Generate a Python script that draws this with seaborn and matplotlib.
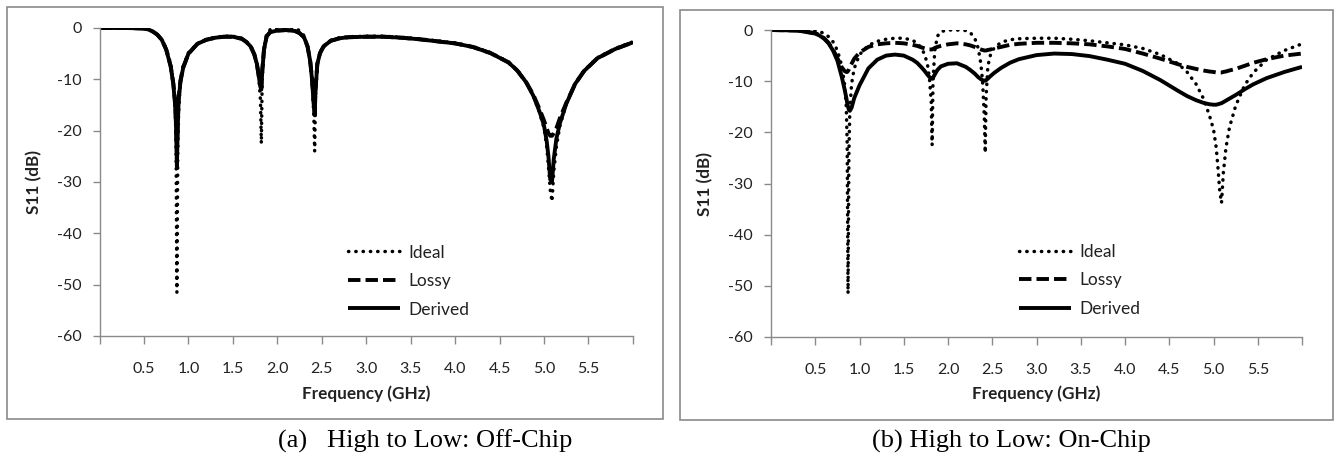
import matplotlib
matplotlib.use("Agg")
import matplotlib.pyplot as plt
import numpy as np
import pandas as pd
import seaborn as sns
from matplotlib.patches import Rectangle

# ---------------- data ----------------
freq_ghz = [0.00, 0.30, 0.50, 0.55, 0.60, 0.65, 0.70, 0.75, 0.80, 0.83,
            0.85, 0.86, 0.87, 0.88, 0.89, 0.91, 0.94, 1.00, 1.10, 1.20,
            1.30, 1.40, 1.50, 1.60, 1.65, 1.70, 1.74, 1.77, 1.79, 1.81,
            1.82, 1.83, 1.85, 1.88, 1.92, 2.00, 2.10, 2.20, 2.25, 2.30,
            2.34, 2.37, 2.39, 2.41, 2.42, 2.43, 2.45, 2.48, 2.52, 2.60,
            2.70, 2.80, 3.00, 3.20, 3.40, 3.60, 3.80, 4.00, 4.20, 4.40,
            4.60, 4.70, 4.80, 4.88, 4.95, 5.00, 5.03, 5.05, 5.07, 5.09,
            5.11, 5.14, 5.18, 5.25, 5.35, 5.45, 5.60, 5.80, 6.00]

# Ideal (same in both panels)
s11_ideal = [0, 0, -0.1, -0.3, -0.7, -1.3, -2.3, -4.0, -7.0, -10.5,
             -15, -22, -51.5, -24, -16, -10.5, -7.5, -4.8, -3.0, -2.2,
             -1.8, -1.6, -1.6, -2.0, -2.6, -3.5, -5.0, -7.0, -9.5, -14,
             -22.5, -10, -4.0, -1.2, -0.3, 0, 0, -0.1, -0.5, -1.5,
             -3.5, -6.5, -10, -17, -24, -13, -7.0, -4.8, -3.5, -2.4,
             -1.9, -1.7, -1.6, -1.6, -1.8, -2.1, -2.5, -2.9, -3.6, -4.8,
             -6.6, -8.2, -10.5, -13.2, -16.5, -19.5, -23, -27, -31.5, -33.8,
             -28, -23, -19, -14.8, -10.8, -8.3, -5.8, -4.0, -2.7]

# (a) Off-Chip
s11_lossy_off = [0, 0, -0.1, -0.3, -0.7, -1.3, -2.3, -4.2, -7.4, -10.8,
                 -14.5, -18, -24, -18, -13.5, -10.2, -7.7, -5.0, -3.1, -2.3,
                 -1.9, -1.7, -1.7, -2.1, -2.7, -3.6, -5.1, -7.0, -9.2, -11.2,
                 -11.5, -8.3, -4.2, -1.6, -0.8, -0.5, -0.4, -0.6, -1.0, -1.8,
                 -3.6, -6.5, -9.8, -14.5, -16, -11.5, -7, -4.9, -3.6, -2.5,
                 -2.0, -1.8, -1.7, -1.7, -1.9, -2.2, -2.6, -3.0, -3.7, -4.9,
                 -6.7, -8.3, -10.6, -13.0, -15.8, -18, -19.5, -20.5, -21, -21,
                 -20.5, -19.5, -17.5, -14.6, -10.9, -8.4, -5.9, -4.1, -2.8]
s11_derived_off = [0, 0, -0.1, -0.3, -0.7, -1.3, -2.3, -4.2, -7.5, -11,
                   -15, -19, -27, -19, -14, -10.5, -7.8, -5.0, -3.1, -2.3,
                   -1.9, -1.7, -1.7, -2.1, -2.7, -3.6, -5.1, -7.0, -9.3, -11.5,
                   -12, -8.5, -4.2, -1.6, -0.8, -0.5, -0.4, -0.6, -1.0, -1.8,
                   -3.6, -6.5, -10, -15, -17, -12, -7, -4.9, -3.6, -2.5,
                   -2.0, -1.8, -1.7, -1.7, -1.9, -2.2, -2.6, -3.0, -3.7, -4.9,
                   -6.7, -8.3, -10.6, -13.2, -16.3, -19, -22, -25, -29.5, -30,
                   -25.5, -21.5, -18.5, -14.8, -10.9, -8.4, -5.9, -4.1, -2.8]

# (b) On-Chip
s11_lossy_on = [0, -0.1, -0.6, -1.0, -1.6, -2.5, -3.8, -5.5, -7.3, -8.0,
                -8.2, -8.2, -8.0, -7.7, -7.3, -6.6, -5.6, -4.4, -3.3, -2.8,
                -2.6, -2.5, -2.6, -2.9, -3.1, -3.4, -3.6, -3.7, -3.8, -3.8,
                -3.8, -3.7, -3.5, -3.3, -3.1, -2.8, -2.6, -2.8, -3.0, -3.3,
                -3.6, -3.8, -3.9, -4.0, -4.0, -4.0, -3.9, -3.8, -3.6, -3.3,
                -2.9, -2.7, -2.5, -2.5, -2.6, -2.8, -3.2, -3.7, -4.6, -5.6,
                -6.7, -7.2, -7.6, -7.9, -8.1, -8.2, -8.3, -8.3, -8.3, -8.3,
                -8.2, -8.1, -7.9, -7.6, -7.0, -6.4, -5.7, -5.0, -4.6]
s11_derived_on = [0, -0.1, -0.7, -1.1, -1.7, -2.6, -4.0, -6.0, -9.2, -11.5,
                  -13.2, -14.2, -15.0, -15.6, -15.8, -15.2, -13.3, -10.8, -7.5, -5.8,
                  -5.0, -4.8, -5.0, -5.8, -6.4, -7.3, -8.1, -8.8, -9.2, -9.5,
                  -9.5, -9.3, -8.7, -7.8, -7.1, -6.6, -6.5, -7.2, -7.8, -8.5,
                  -9.2, -9.6, -9.8, -9.9, -9.9, -9.8, -9.5, -9.0, -8.4, -7.4,
                  -6.4, -5.7, -4.9, -4.6, -4.7, -5.1, -5.8, -6.6, -8.0, -9.8,
                  -11.9, -12.9, -13.7, -14.2, -14.5, -14.6, -14.6, -14.5, -14.4, -14.3,
                  -14.1, -13.8, -13.4, -12.7, -11.6, -10.6, -9.4, -8.2, -7.2]

series_names = ["Ideal", "Lossy", "Derived"]
x_ticks = [0.0, 0.5, 1.0, 1.5, 2.0, 2.5, 3.0, 3.5, 4.0, 4.5, 5.0, 5.5, 6.0]
x_tick_labels = ["", "0.5", "1.0", "1.5", "2.0", "2.5", "3.0", "3.5", "4.0",
                 "4.5", "5.0", "5.5", ""]
y_ticks = [0, -10, -20, -30, -40, -50, -60]
captions = ["(a)   High to Low: Off-Chip", "(b) High to Low: On-Chip"]

# ---------------- style ----------------
sns.set_style("white")
plt.rcParams['font.family'] = ['Lato', 'DejaVu Sans']

styles = {
    "Ideal": dict(linestyle=(0, (0.1, 2.0)), lw=2.5, capstyle="round"),
    "Lossy": dict(linestyle=(0, (3.2, 1.3)), lw=2.8, capstyle="butt"),
    "Derived": dict(linestyle="-", lw=2.8, capstyle="butt"),
}

fig = plt.figure(figsize=(13.4, 4.59), dpi=100)
axA = fig.add_axes([0.0743, 0.268, 0.398, 0.671])
axB = fig.add_axes([0.5754, 0.2658, 0.3963, 0.6688])

panels = [
    (axA, [s11_ideal, s11_lossy_off, s11_derived_off], (0.466, 0.297), -0.123, -0.188),
    (axB, [s11_ideal, s11_lossy_on, s11_derived_on], (0.467, 0.303), -0.124, -0.186),
]

gray = "#8a8a8a"
txt = "#222222"
tick_fs = 11.5
lab_fs = 12.3
leg_fs = 12.5
for ax, vals, leg_anchor, ylab_x, xlab_y in panels:
    for name, v in zip(series_names, vals):
        df = pd.DataFrame({"freq": freq_ghz, "s11": v})
        st = styles[name]
        sns.lineplot(data=df, x="freq", y="s11", ax=ax, color="black",
                     lw=st["lw"], linestyle=st["linestyle"], label=name,
                     estimator=None, sort=False)
        line = ax.lines[-1]
        line.set_dash_capstyle(st["capstyle"])
        line.set_solid_capstyle("butt")
        line.set_solid_joinstyle("round")
    ax.set_xlim(0, 6)
    ax.set_ylim(-60, 0)
    ax.set_xticks(x_ticks)
    ax.set_xticklabels(x_tick_labels)
    ax.set_yticks(y_ticks)
    ax.set_yticklabels([str(t) for t in y_ticks])
    for s in ["top", "right"]:
        ax.spines[s].set_visible(False)
    for s in ["left", "bottom"]:
        ax.spines[s].set_color(gray)
        ax.spines[s].set_linewidth(1.0)
    ax.tick_params(axis="x", direction="out", length=6, width=1.0, color=gray,
                   labelsize=tick_fs, labelcolor=txt, pad=12.5, bottom=True)
    ax.tick_params(axis="y", direction="out", length=5, width=1.0, color=gray,
                   labelsize=tick_fs, labelcolor=txt, pad=8, left=True)
    ax.set_xlabel("Frequency (GHz)", fontsize=lab_fs, fontweight="bold", color=txt)
    ax.set_ylabel("S11 (dB)", fontsize=lab_fs, fontweight="bold", color=txt)
    ax.xaxis.set_label_coords(0.5, xlab_y)
    ax.xaxis.label.set_va("center")
    ax.yaxis.set_label_coords(ylab_x, 0.5)
    ax.yaxis.label.set_va("center")
    ax.grid(False)
    leg = ax.legend(loc="upper left", bbox_to_anchor=leg_anchor, frameon=False,
                    handlelength=3.0, handletextpad=0.45, labelspacing=0.72,
                    fontsize=leg_fs, borderpad=0, borderaxespad=0)
    for t in leg.get_texts():
        t.set_color(txt)

# outer panel frames
fig.patches.append(Rectangle((0.0052, 0.0871), 0.4896, 0.8976, transform=fig.transFigure,
                             fill=False, ec=gray, lw=1.2))
fig.patches.append(Rectangle((0.5075, 0.085), 0.4873, 0.8932, transform=fig.transFigure,
                             fill=False, ec=gray, lw=1.2))

# captions
fig.text(0.3172, 1 - 441 / 459, captions[0], family="Liberation Serif", fontsize=19,
         ha="center", va="center", color="black")
fig.text(0.7545, 1 - 441 / 459, captions[1], family="Liberation Serif", fontsize=19,
         ha="center", va="center", color="black")

fig.savefig("out.png", dpi=100)
